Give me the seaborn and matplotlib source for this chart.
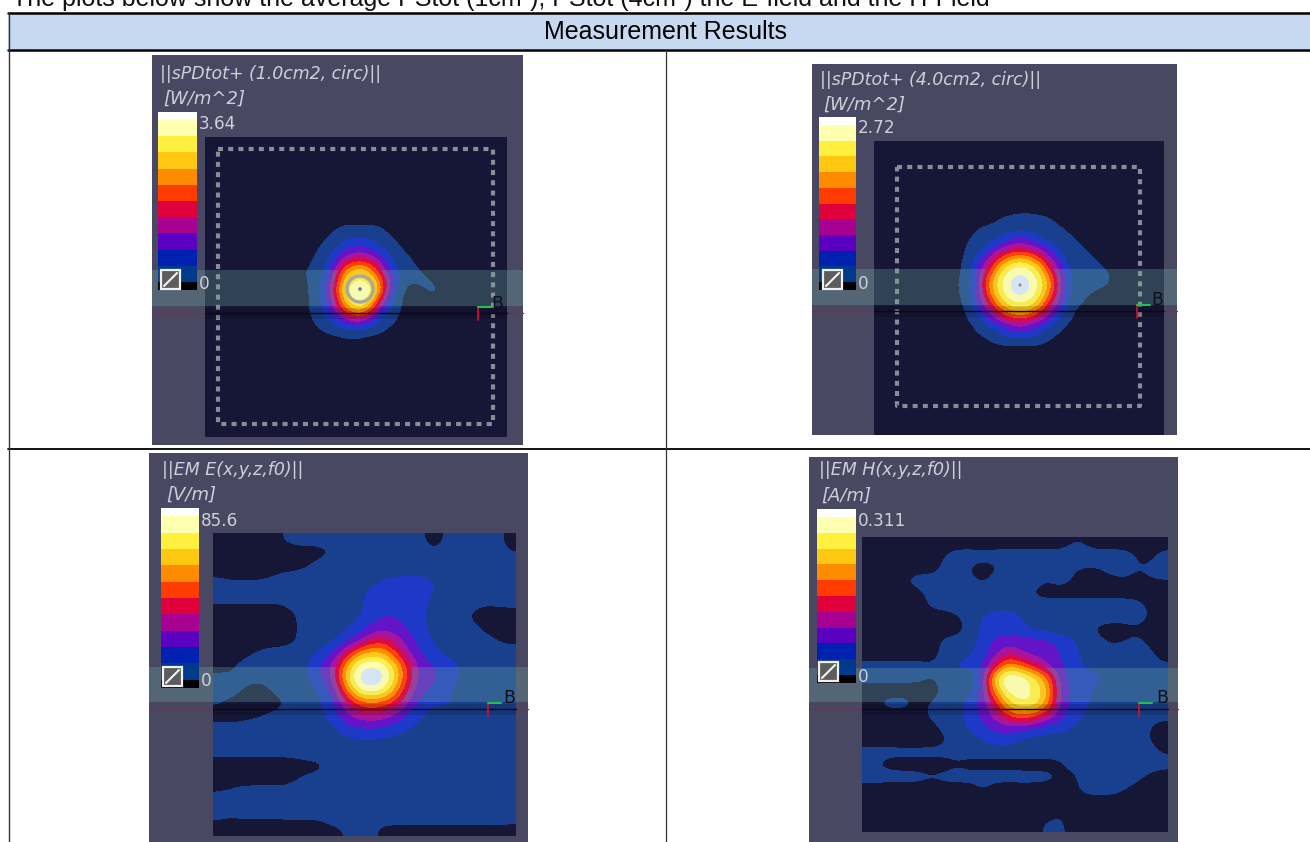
#!/usr/bin/env python
# -*- coding: utf-8 -*-

"""
Measurement results table with four field plots (sPDtot 1cm2, sPDtot 4cm2, E, H)
Values in the grids are contour band numbers read from the picture, 0 = below
the lowest band, 11 = top band.
"""

import numpy as np
import matplotlib
matplotlib.use("Agg")
import matplotlib.pyplot as plt
from matplotlib.colors import ListedColormap, BoundaryNorm, to_rgba
from matplotlib.patches import Rectangle, Circle
import seaborn as sns

page_title = "The plots below show the average PStot (1cm²), PStot (4cm²) the E-field and the H-Field"
table_title = "Measurement Results"

field_colors = ['#161636', '#19408f', '#1e38c8', '#6414c8', '#a8149c', '#dc0a44',
                '#ff4008', '#ff9000', '#ffc818', '#fff050', '#ffffb0', '#dce8f8']
legend_colors = ['#000000', '#003a8c', '#0020b0', '#5a00c0', '#a80090', '#e0003c',
                 '#ff3c00', '#ff8c00', '#ffc810', '#fff040', '#ffffb0', '#ffffff']
legend_repeats = [1, 2, 2, 2, 2, 2, 2, 2, 2, 2, 2, 1]

spd1_grid = [
    [0, 0, 0, 0, 0, 0, 0, 0, 0, 0, 0, 0, 0, 0, 0],
    [0, 0, 0, 0.5, 1, 1, 1, 1, 0.5, 0, 0, 0, 0, 0, 0],
    [0, 0, 0.5, 1, 1.4, 1.6, 1.6, 1.2, 1, 0.5, 0, 0, 0, 0, 0],
    [0, 0.3, 1, 1.5, 2.5, 3, 3, 2.2, 1.5, 1, 0.4, 0, 0, 0, 0],
    [0, 0.7, 1.2, 2.3, 4.2, 5, 5, 4, 2.5, 1.2, 1, 0.3, 0, 0, 0],
    [0.4, 1, 1.5, 3.5, 6.5, 8, 8, 6, 3.5, 1.6, 1, 0.8, 0.2, 0, 0],
    [0.3, 1, 1.8, 4.5, 8, 9.5, 9.5, 8, 5, 2.2, 0.8, 0.7, 0.8, 0.3, 0],
    [0.2, 1, 2.2, 5, 9, 11, 11, 9, 5, 1.8, 0.3, 0.1, 0.5, 0.8, 0.1],
    [0.1, 1, 2, 4.5, 8, 10, 10, 7, 3.5, 1.2, 0.2, 0, 0, 0.2, 0],
    [0.2, 0.9, 1.6, 3.5, 6, 8, 7.5, 4.5, 2, 1, 0.1, 0, 0, 0, 0],
    [0, 0.7, 1.2, 2, 3, 4, 3.5, 2, 1.2, 0.6, 0, 0, 0, 0, 0],
    [0, 0.2, 0.7, 1, 1.2, 1.4, 1.2, 1, 0.5, 0.1, 0, 0, 0, 0, 0],
    [0, 0, 0, 0.1, 0.3, 0.3, 0.2, 0, 0, 0, 0, 0, 0, 0, 0],
]

spd4_grid = [
    [0, 0, 0, 0, 0, 0.1, 0.2, 0.2, 0.1, 0, 0, 0, 0, 0, 0, 0, 0],
    [0, 0, 0, 0.1, 0.6, 0.9, 1, 1, 0.9, 0.7, 0.1, 0, 0, 0, 0, 0, 0],
    [0, 0.1, 0.7, 1, 1, 1.1, 1.1, 1.1, 1, 1, 0.8, 0.3, 0, 0, 0, 0, 0],
    [0, 0.6, 1, 1.1, 1.6, 2.6, 2.9, 2.6, 1.6, 1.1, 1, 0.8, 0.3, 0, 0, 0, 0],
    [0.1, 0.9, 1.2, 2.6, 3.7, 4.5, 5, 4.5, 3.7, 2.6, 1.2, 1, 0.8, 0.3, 0, 0, 0],
    [0.3, 1, 2.4, 4, 6, 7.8, 8.3, 7.8, 6, 4, 2.4, 1, 1, 0.8, 0.3, 0, 0],
    [0.3, 1.3, 3.3, 5.4, 8.3, 9.7, 10.2, 9.7, 8.3, 5.4, 3.3, 1.3, 1, 1, 0.9, 0.3, 0],
    [0.4, 1.4, 3.7, 6.9, 9.2, 10.6, 11.2, 10.6, 9.2, 6.9, 3.7, 1.4, 1, 1, 1, 0.6, 0],
    [0.4, 1.4, 3.7, 6.9, 9.2, 10.6, 11.2, 10.6, 9.2, 6.9, 3.7, 1.4, 1, 0.7, 0.4, 0.2, 0],
    [0.3, 1.3, 3.3, 5.4, 8.3, 9.7, 10.2, 9.7, 8.3, 5.4, 3.3, 1.3, 0.8, 0.2, 0, 0, 0],
    [0.1, 1, 2.4, 4, 6, 7.8, 8.3, 7.8, 6, 4, 2.4, 0.9, 0.2, 0, 0, 0, 0],
    [0, 0.6, 1.2, 2.6, 3.7, 4.5, 5, 4.5, 3.7, 2.6, 1.2, 0.6, 0, 0, 0, 0, 0],
    [0, 0.1, 0.9, 1.1, 1.6, 2.6, 2.9, 2.6, 1.6, 1.1, 0.6, 0, 0, 0, 0, 0, 0],
    [0, 0, 0.1, 0.6, 1, 1.1, 1.1, 1.1, 1, 0.5, 0.1, 0, 0, 0, 0, 0, 0],
    [0, 0, 0, 0, 0, 0.1, 0.1, 0.1, 0, 0, 0, 0, 0, 0, 0, 0, 0],
]

e_grid = [
    [0, 0, 0, 0, 0, 0.5, 1, 1, 1, 1, 1, 1, 1, 1, 1, 1, 0.7, 0, 0.7, 1, 1, 1, 1, 0],
    [0, 0, 0, 0, 0, 0, 0, 0, 0.1, 0.5, 1, 1, 1, 1, 1, 1, 1, 0.6, 1, 1, 1, 1, 1, 0.5],
    [0, 0, 0, 0, 0, 0, 0, 0.4, 0.9, 1, 1, 1, 1, 1, 1, 1, 1, 1, 1, 1, 1, 1, 1, 1],
    [0.5, 0.3, 0.3, 0.3, 0.5, 0.8, 1, 1, 1, 1, 1, 1, 1, 1.4, 1.5, 1.6, 1.6, 1.3, 1, 1, 1, 1, 1, 1],
    [1, 1, 1, 1, 1, 1, 1, 1, 1, 1, 1, 1.3, 1.6, 2, 2, 2, 2, 1.6, 1.1, 1, 1, 1, 1, 1],
    [0.6, 0.6, 0.6, 0.6, 0.6, 0.6, 1, 1, 1, 1, 1, 1.3, 1.8, 2, 2, 2, 1.8, 1.2, 1, 1, 1, 0.7, 0.8, 0.9],
    [0, 0, 0, 0, 0, 0, 0.4, 1, 1, 1, 1.1, 1.3, 1.9, 2.5, 2.4, 2, 1.7, 1.2, 1, 0.9, 0.3, 0, 0, 0],
    [0, 0, 0, 0, 0, 0, 0.4, 1, 1, 1, 1.3, 1.9, 2.7, 3.1, 2.9, 2.3, 1.7, 1.2, 1, 1, 0.8, 0.3, 0, 0],
    [0, 0, 0, 0, 0, 0, 0.4, 1, 1, 1.4, 2, 3, 4.5, 5, 4, 3, 2, 1.4, 1, 1, 1, 0.9, 0.5, 0.2],
    [0, 0, 0.2, 0.6, 0.9, 1, 1, 1.2, 1.6, 2.4, 4.5, 7, 8, 7.5, 5.5, 3.5, 2.5, 1.7, 1.3, 1.1, 1, 1, 1, 1],
    [0, 0.3, 0.9, 1, 1, 1, 1, 1.4, 2.6, 3.8, 7, 10, 10.6, 10.2, 8, 5, 2.9, 2.6, 1.9, 1.5, 1.2, 1, 1, 1],
    [0.9, 0.7, 1, 0.7, 1, 1, 1, 1.5, 2.4, 3.6, 8, 11, 11.5, 11, 8.5, 5, 3, 2.7, 2.1, 1.4, 1.3, 1.7, 1.4, 1],
    [1, 1, 0.3, 0, 0.4, 1, 1, 1, 1.6, 2.7, 6, 9.5, 10.4, 9.5, 7, 4.2, 2.7, 2.3, 1.6, 1.2, 1, 1.5, 1, 1],
    [0.6, 0, 0, 0, 0, 0.3, 1, 1, 1.3, 2.3, 4, 5.5, 6.3, 5.8, 5, 3.2, 2.2, 1.6, 1.6, 1.5, 1.2, 1, 1, 1],
    [0, 0, 0.2, 0.4, 0.7, 1, 1, 1, 1.2, 2, 3.2, 4, 4.2, 4, 3.2, 2.3, 1.6, 1, 1, 1, 1, 1, 1, 1],
    [1, 1, 1, 1, 1, 1, 1, 1, 1, 1.3, 2, 2.4, 2.4, 2.3, 1.9, 1.5, 1.1, 1, 1, 1, 1, 1, 1, 1],
    [1, 1, 1, 1, 1, 1, 1, 1, 1, 1, 1.1, 1.3, 1.3, 1.2, 1, 1, 1, 1, 1, 1, 1, 1, 1, 1],
    [0.7, 0.7, 0.7, 0.7, 0.7, 0.7, 0.8, 1, 1, 1, 1, 1, 1, 1, 1, 1, 1, 1, 1, 1, 1, 1, 1, 1],
    [0, 0, 0, 0, 0, 0, 0, 0, 0.2, 0.9, 1, 1, 1, 1, 1, 1, 1, 1, 1, 1, 1, 1, 1, 1],
    [0, 0, 0, 0, 0, 0, 0.4, 0.9, 1, 1, 1, 1, 1, 1, 1, 1, 1, 1, 1, 1, 1, 1, 1, 1],
    [0.5, 0.7, 1, 1, 1, 1, 1, 1, 1, 1, 1, 1, 1, 1, 1, 1, 1, 1, 1, 1, 1, 1, 1, 1],
    [1, 1, 1, 1, 1, 1, 1, 1, 1, 1, 1, 1, 1, 1, 1, 1, 1, 1, 1, 1, 1, 1, 1, 1],
    [0.6, 0.5, 0.6, 0.6, 0.6, 0.6, 0.6, 0.6, 0.6, 0.9, 1, 1, 1, 1, 1, 1, 1, 1, 1, 1, 1, 1, 1, 1],
    [0.2, 0.1, 0.1, 0.1, 0.1, 0.1, 0.2, 0.2, 0.2, 0.3, 0.5, 1, 0.8, 0.2, 0.2, 0.2, 0.2, 0.2, 0.2, 0.2, 0.2, 0.2, 0.2, 0.1],
]

h_grid = [
    [0, 0, 0, 0, 0, 0, 0, 0, 0, 0, 0, 0, 0, 0, 0, 0, 0.5, 0.4, 0, 0, 0, 0, 0, 0],
    [0, 0, 0, 0, 0, 0, 0.5, 1, 1, 1, 1, 1, 1, 1, 1, 1, 1, 1, 1, 1, 1, 0.5, 0.1, 0.9],
    [0, 0, 0, 0, 0, 0, 0.8, 1, 0.4, 0, 0.3, 1, 1, 0.9, 0.2, 0.9, 0.6, 0.5, 0.5, 0.9, 1, 0.5, 0.7, 1],
    [0, 0, 0, 0.6, 1, 1, 1, 1, 0.7, 0.3, 0.9, 1.7, 1.6, 1, 0.6, 1, 0.5, 0, 0, 0.2, 0.4, 0.3, 0.4, 0.5],
    [0, 0, 0, 0, 0.3, 0.9, 0.6, 1, 1, 1, 1, 1, 0.7, 0.3, 0, 0, 0, 0, 0, 0, 0, 0, 0, 0],
    [0, 0, 0, 0, 0, 0.8, 1, 1, 1, 1, 1, 1, 1, 1, 1, 1, 1, 1, 1, 1, 1, 0.9, 0.3, 0.2],
    [0, 0, 0, 0, 0, 0, 0, 0.4, 1, 1.6, 2, 2, 1.5, 1, 1, 1, 1, 1, 1, 1, 1, 1, 0.45, 0.3],
    [0, 0, 0, 0, 0, 0, 0, 0, 0.9, 1.7, 2, 2, 1.8, 1.3, 1, 1, 1, 0.9, 0.2, 0, 0, 0.3, 0.1, 0],
    [0, 0, 0, 0, 0, 0, 0.8, 1, 1.2, 1.8, 2.9, 3, 3, 3, 3, 2, 1.7, 1.1, 0.9, 0.3, 0.5, 0.8, 0.3, 0],
    [0, 0, 0, 0, 0, 0, 1, 1.1, 1.3, 2.2, 3.2, 4.5, 3.5, 3, 3, 2.6, 1.8, 1.2, 1, 1, 1, 1, 0.8, 0.1],
    [0.9, 0.9, 0.9, 0.9, 0.9, 0.7, 1, 1.8, 1.9, 2.4, 5, 7.5, 6.5, 5, 3.5, 2.6, 1.9, 1.4, 1.3, 1, 1, 1, 1, 0.7],
    [0.8, 0.8, 0.8, 0.8, 0.8, 0.4, 1, 1, 0.4, 3, 9, 11.2, 10.5, 9.2, 7, 3.2, 2.2, 1.8, 1.7, 1.3, 1, 1, 1, 1],
    [0, 0, 0, 0, 0, 0, 0.8, 1, 1.2, 3, 7.5, 10, 10, 9.3, 8, 3.2, 2.2, 1.9, 1.2, 1, 1, 1, 1, 1],
    [0, 0.7, 1, 0.9, 0.2, 0.6, 1, 1.1, 1.9, 3, 5, 8.5, 9.8, 9.6, 7.5, 3.2, 2.4, 1.7, 1.2, 1.1, 0.2, 0.6, 1, 1],
    [0, 0, 0, 0, 0, 0.9, 1, 1.1, 2, 2.8, 4, 5.5, 6.5, 6, 4.5, 3, 2, 1.4, 1, 1, 1, 1, 1, 0.9],
    [0, 0, 0, 0, 0, 0.1, 0.9, 1, 1.8, 2.2, 2.9, 3.1, 3, 2.5, 2, 1.9, 1.5, 1, 1, 1, 1, 1, 0.6, 0],
    [0, 0, 0, 0, 0, 0, 0.3, 1, 1.1, 1.5, 1.9, 1.9, 1.3, 1, 1, 1, 1, 1, 1, 0.7, 0.6, 1, 0.5, 0],
    [0.9, 0.9, 0.9, 0.9, 0.9, 0.9, 0.9, 0.9, 1, 1, 1, 1, 1, 1, 1, 1, 1, 1, 1, 1, 1, 1, 1, 0.4],
    [0.8, 0.3, 0, 0, 0, 0, 0, 0.3, 0, 0, 0, 0, 0, 0, 0, 0.2, 0.8, 1, 1, 1, 1, 1, 1, 0.9],
    [0.9, 1, 1, 1, 0.9, 0.7, 0.9, 1, 1, 1, 1, 1, 1, 1, 0.9, 0.5, 0.2, 1, 1, 1, 1, 0.8, 0.3, 0],
    [0.1, 0, 0, 0, 0, 0, 0, 0, 0, 0.6, 0, 0, 0, 0, 0, 0, 0.1, 0.9, 1, 1, 0.6, 0.2, 0, 0],
    [0, 0, 0, 0, 0, 0, 0, 0, 0, 0, 0, 0, 0.5, 0.7, 0, 0, 0, 0, 0, 0, 0, 0, 0, 0],
    [0, 0, 0, 0.5, 0, 0, 0, 0, 0, 0, 0, 0, 0, 0, 0, 0.4, 0, 0, 0, 0, 0, 0, 0, 0],
    [0, 0, 0, 0.5, 0, 0, 0, 0, 0, 0, 0, 0, 0, 0, 0.8, 0.9, 0, 0, 0, 0, 0, 0, 0, 0],
]

# panel layout, all in pixels of the 1310x842 page
panels = [
    {"grid": spd1_grid, "extent": (300, 450, 345, 215), "title": "||sPDtot+ (1.0cm2, circ)||",
     "unit": "[W/m^2]", "max": "3.64", "bg": (152, 523, 55, 445), "field": (205, 507, 137, 437),
     "dots": (218, 493, 149, 424), "band": (270, 306), "line": 313, "bar": (158, 197, 112, 290),
     "icon": (161, 270), "title_at": (160, 74), "unit_at": (163, 99), "max_at": (199, 124),
     "zero_at": (199, 284), "axes_at": (478, 307, 497, 304)},
    {"grid": spd4_grid, "extent": (955, 1125, 355, 205), "title": "||sPDtot+ (4.0cm2, circ)||",
     "unit": "[W/m^2]", "max": "2.72", "bg": (812, 1177, 64, 435), "field": (874, 1164, 141, 435),
     "dots": (897, 1140, 167, 406), "band": (269, 305), "line": 311, "bar": (819, 856, 117, 290),
     "icon": (823, 270), "title_at": (820, 80), "unit_at": (823, 105), "max_at": (858, 128),
     "zero_at": (858, 284), "axes_at": (1137, 305, 1157, 300)},
    {"grid": e_grid, "extent": (213, 516, 836, 533), "title": "||EM E(x,y,z,f0)||",
     "unit": "[V/m]", "max": "85.6", "bg": (149, 528, 453, 842), "field": (213, 516, 533, 836),
     "dots": None, "band": (667, 702), "line": 709, "bar": (161, 199, 508, 688),
     "icon": (163, 667), "title_at": (162, 470), "unit_at": (166, 495), "max_at": (201, 521),
     "zero_at": (201, 681), "axes_at": (488, 703, 509, 698)},
    {"grid": h_grid, "extent": (862, 1168, 832, 537), "title": "||EM H(x,y,z,f0)||",
     "unit": "[A/m]", "max": "0.311", "bg": (809, 1178, 457, 842), "field": (862, 1168, 537, 832),
     "dots": None, "band": (668, 702), "line": 709, "bar": (817, 856, 509, 683),
     "icon": (819, 662), "title_at": (819, 470), "unit_at": (821, 496), "max_at": (858, 521),
     "zero_at": (858, 677), "axes_at": (1139, 703, 1162, 698)},
]

PANEL_BG = '#494863'
PANEL_TEXT = '#cfcfd8'
W, H = 1310, 842
BOUNDS = np.arange(-0.5, 12.0, 1.0)


def page_axes(fig, zorder):
    """ Full page axes with pixel coordinates, y pointing down """
    ax = fig.add_axes([0, 0, 1, 1], zorder=zorder)
    ax.set_xlim(0, W)
    ax.set_ylim(H, 0)
    ax.axis("off")
    ax.patch.set_alpha(0)
    return ax


def box(ax, l, r, t, b, **kwargs):
    ax.add_patch(Rectangle((l, t), r - l, b - t, linewidth=0, **kwargs))


def draw_table(ax):
    ax.text(12, 6, page_title, fontsize=18, color='#111111', va='baseline', ha='left')
    box(ax, 8, W, 14, 49, facecolor='#c6d9f1')
    ax.text(666, 32, table_title, fontsize=18, color='black', va='center', ha='center')
    ax.plot([8, W], [13, 13], color='black', lw=1.8)
    ax.plot([8, W], [50, 50], color='black', lw=1.8)
    ax.plot([8, W], [449, 449], color='black', lw=1.3)
    ax.plot([8.5, 8.5], [13, H], color='#333333', lw=1.0)
    ax.plot([666, 666], [50, H], color='#333333', lw=0.9)


def draw_field(ax, p):
    cmap = ListedColormap(field_colors)
    norm = BoundaryNorm(BOUNDS, cmap.N, clip=True)
    l, r, t, b = p["bg"]
    box(ax, l, r, t, b, facecolor=PANEL_BG)
    l, r, t, b = p["field"]
    box(ax, l, r, t, b, facecolor=field_colors[0])
    if p["dots"] is not None:
        dl, dr, dt, db = p["dots"]
        ax.plot([dl, dr, dr, dl, dl], [dt, dt, db, db, dt], color='#8b8b95', lw=3.0,
                linestyle=(0, (1.2, 1.25)), dash_capstyle='butt', zorder=3)
    ax.imshow(np.array(p["grid"], dtype=float), extent=p["extent"], cmap=cmap, norm=norm,
              interpolation='bicubic', interpolation_stage='data', aspect='auto',
              origin='upper', zorder=2)


def draw_legend(fig, p):
    """ Colour legend, a single column heatmap """
    l, r, t, b = p["bar"]
    ax = fig.add_axes([l / W, 1 - b / H, (r - l) / W, (b - t) / H], zorder=3)
    cells = np.repeat(np.arange(len(legend_colors)), legend_repeats)[::-1].reshape(-1, 1)
    sns.heatmap(cells, ax=ax, cmap=ListedColormap(legend_colors), vmin=-0.5, vmax=11.5,
                cbar=False, xticklabels=False, yticklabels=False)


def draw_band(ax, p):
    l, r, t, b = p["bg"]
    fl, fr, _, _ = p["field"]
    bt, bb = p["band"]
    box(ax, l, r, bt, bb, facecolor='#6eaaa0', alpha=0.30)

    # the bright bands keep their colour under the translucent strip
    bright = [to_rgba(c, 0.0) if i < 5 else to_rgba(c, 0.85) for i, c in enumerate(field_colors)]
    cmap = ListedColormap(bright)
    im = ax.imshow(np.array(p["grid"], dtype=float), extent=p["extent"], cmap=cmap,
                   norm=BoundaryNorm(BOUNDS, cmap.N, clip=True), interpolation='bicubic',
                   interpolation_stage='data', aspect='auto', origin='upper', zorder=2)
    im.set_clip_path(Rectangle((l, bt), r - l, bb - bt, transform=ax.transData))

    # reference line through the plot, darker strip around it in the field only
    y = p["line"]
    box(ax, fl, fr, y - 5, y + 6, facecolor='black', alpha=0.14)
    ax.plot([l, fl], [y, y], color='#8a2a3a', lw=1.0)
    ax.plot([fr, r], [y, y], color='#8a2a3a', lw=1.0)
    ax.plot([fl, fr], [y, y], color='#0a0a14', lw=1.0)


def draw_overlay(ax, p):
    # small axes marker
    mx, my, gx, gy = p["axes_at"]
    ax.plot([mx, mx], [my, my + 13], color='#c8102e', lw=1.3)
    ax.plot([mx, mx + 13], [my, my], color='#20c050', lw=1.5)
    ax.text(gx, gy, "B", fontsize=12.5, color='#101018', ha='center', va='center',
            family='DejaVu Sans')

    # reset icon on the legend
    ix, iy = p["icon"]
    ax.add_patch(Rectangle((ix, iy), 19, 19, facecolor='#5c5c5c', edgecolor='#f0f0f0', lw=1.6))
    ax.plot([ix + 3, ix + 16], [iy + 16, iy + 3], color='#f4f4f4', lw=1.5)

    style = dict(color=PANEL_TEXT, va='center', ha='left', family='DejaVu Sans')
    ax.text(*p["title_at"], p["title"], fontsize=12.5, style='italic', **style)
    ax.text(*p["unit_at"], p["unit"], fontsize=13, style='italic', **style)
    ax.text(*p["max_at"], p["max"], fontsize=12.2, **style)
    ax.text(*p["zero_at"], "0", fontsize=12.2, **style)


if __name__ == "__main__":
    sns.set_theme(style="white")
    plt.rcParams['font.family'] = ['Liberation Sans', 'DejaVu Sans']

    fig = plt.figure(figsize=(W / 100, H / 100), dpi=100, facecolor='white')
    base = page_axes(fig, 1)
    mid = page_axes(fig, 2)
    top = page_axes(fig, 4)

    draw_table(base)
    for p in panels:
        draw_field(base, p)
        draw_band(mid, p)
        draw_legend(fig, p)
        draw_overlay(top, p)

    # imshow resets the limits
    for ax in (base, mid):
        ax.set_xlim(0, W)
        ax.set_ylim(H, 0)

    # extra marks on the first plot: ring around the peak, probe dots at the centres
    top.add_patch(Circle((360, 289), 13, facecolor='none', edgecolor='#a9a99a', lw=2.4))
    top.add_patch(Circle((360, 289), 1.8, facecolor='#6a7a90', lw=0))
    top.add_patch(Circle((1020, 285), 1.6, facecolor='#8a94a0', lw=0))

    fig.savefig("out.png", dpi=100)
    plt.close(fig)
